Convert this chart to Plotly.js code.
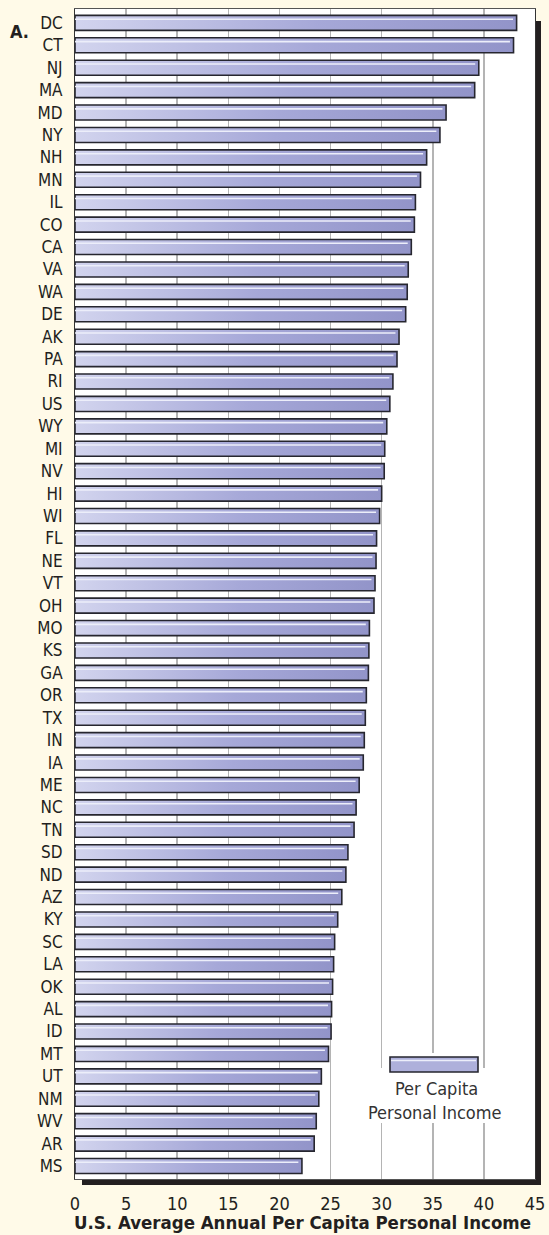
<!DOCTYPE html>
<html>
<head>
<meta charset="utf-8">
<script src="https://cdn.plot.ly/plotly-3.0.1.min.js"></script>
<style>
  html, body { margin: 0; padding: 0; background: #fffae8; }
  #chart { width: 549px; height: 1235px; }
</style>
</head>
<body>
<div id="chart"></div>
<script>
// ---- data (top to bottom as in the chart) ----
const states = ["DC","CT","NJ","MA","MD","NY","NH","MN","IL","CO",
  "CA","VA","WA","DE","AK","PA","RI","US","WY","MI",
  "NV","HI","WI","FL","NE","VT","OH","MO","KS","GA",
  "OR","TX","IN","IA","ME","NC","TN","SD","ND","AZ",
  "KY","SC","LA","OK","AL","ID","MT","UT","NM","WV","AR","MS"];
const incomeThousands = [43.2,42.9,39.5,39.1,36.3,35.7,34.4,33.8,33.3,33.2,
  32.9,32.6,32.5,32.35,31.7,31.5,31.1,30.8,30.5,30.3,
  30.25,30.0,29.8,29.5,29.45,29.35,29.25,28.8,28.75,28.7,
  28.5,28.4,28.3,28.2,27.8,27.5,27.3,26.7,26.5,26.1,
  25.7,25.4,25.3,25.2,25.1,25.05,24.8,24.1,23.85,23.6,23.4,22.2];
const xTicks = [0,5,10,15,20,25,30,35,40,45];
const xTitle = "U.S. Average Annual Per Capita Personal Income";
const legendLines = ["Per Capita", "Personal Income"];
const panelLabel = "A.";

// ---- layout geometry (pixels) ----
const W = 549, H = 1235;
const L = 75, R = 535, T = 9, B = 1179;
const px = x => (x - L) / (R - L);
const py = y => (B - y) / (B - T);
const FONT = "DejaVu Sans Condensed, DejaVu Sans, sans-serif";

const barTrace = {
  type: "bar", orientation: "h",
  x: incomeThousands, y: states,
  width: 0.67, offset: -0.335,
  marker: { color: "#aeb0db", line: { color: "#26262f", width: 1.6 } },
  hoverinfo: "x+y", showlegend: false
};
const hiTrace = {
  type: "bar", orientation: "h",
  x: incomeThousands.map(v => v - 0.35), y: states,
  width: 0.07, offset: -0.2,
  marker: { color: "#eceefa", line: { width: 0 } },
  hoverinfo: "skip", showlegend: false
};

const dark = "#231f20";
const shapes = [
  // drop shadow
  { type: "rect", xref: "paper", yref: "paper", x0: px(536), x1: px(541), y0: py(21), y1: py(1185),
    fillcolor: dark, line: { width: 0 }, layer: "below" },
  { type: "rect", xref: "paper", yref: "paper", x0: px(82), x1: px(541), y0: py(1180), y1: py(1185),
    fillcolor: dark, line: { width: 0 }, layer: "below" },
  // legend white background
  { type: "rect", xref: "paper", yref: "paper", x0: px(379), x1: px(488), y0: py(1068), y1: py(1123),
    fillcolor: "#ffffff", line: { width: 0 }, layer: "above" },
  { type: "rect", xref: "paper", yref: "paper", x0: px(386), x1: px(482), y0: py(1053), y1: py(1077),
    fillcolor: "#ffffff", line: { width: 0 }, layer: "above" },
  // legend sample bar
  { type: "rect", xref: "paper", yref: "paper", x0: px(390), x1: px(478), y0: py(1057), y1: py(1072),
    fillcolor: "#aeb0db", line: { color: "#26262f", width: 1.6 }, layer: "above" },
  { type: "line", xref: "paper", yref: "paper", x0: px(391), x1: px(476), y0: py(1060.5), y1: py(1060.5),
    line: { color: "#eceefa", width: 1.5 }, layer: "above" }
];

const annotations = [
  { text: legendLines[0], xref: "paper", yref: "paper", x: px(436), y: py(1088),
    showarrow: false, xanchor: "center", yanchor: "middle",
    font: { family: FONT, size: 18, color: "#333333" } },
  { text: legendLines[1], xref: "paper", yref: "paper", x: px(435), y: py(1112),
    showarrow: false, xanchor: "center", yanchor: "middle",
    font: { family: FONT, size: 18, color: "#333333" } },
  { text: "<b>" + panelLabel + "</b>", xref: "paper", yref: "paper", x: px(19), y: py(31),
    showarrow: false, xanchor: "center", yanchor: "middle",
    font: { family: FONT, size: 18, color: dark } },
  { text: "<b>" + xTitle + "</b>", xref: "paper", yref: "paper", x: px(302), y: py(1222),
    showarrow: false, xanchor: "center", yanchor: "middle",
    font: { family: FONT, size: 18.5, color: dark } }
];

const layout = {
  width: W, height: H,
  margin: { l: L, r: W - R, t: T, b: H - B, pad: 0 },
  paper_bgcolor: "#fffae8",
  plot_bgcolor: "#ffffff",
  barmode: "overlay",
  showlegend: false,
  xaxis: {
    range: [0, 45], tickvals: xTicks, ticktext: xTicks.map(String),
    showgrid: true, gridcolor: "#b4b4b4", gridwidth: 1.5,
    zeroline: false, showline: true, mirror: true, linecolor: "#555555", linewidth: 1,
    ticks: "outside", ticklen: 8, tickcolor: "rgba(0,0,0,0)",
    tickfont: { family: FONT, size: 18, color: dark }
  },
  yaxis: {
    type: "category", categoryorder: "array", categoryarray: states,
    range: [51.58, -0.62],
    showgrid: false, zeroline: false, showline: true, mirror: true,
    linecolor: "#333333", linewidth: 1,
    ticks: "outside", ticklen: 8, tickcolor: "rgba(0,0,0,0)",
    tickfont: { family: FONT, size: 17, color: dark }
  },
  shapes: shapes,
  annotations: annotations
};

Plotly.newPlot("chart", [barTrace, hiTrace], layout, { staticPlot: true, displayModeBar: false })
.then(gd => {
  try {
    const NS = "http://www.w3.org/2000/svg";
    const svg = gd.querySelector("svg.main-svg");
    let defs = svg.querySelector("defs");
    if (!defs) { defs = document.createElementNS(NS, "defs"); svg.insertBefore(defs, svg.firstChild); }
    const g = document.createElementNS(NS, "linearGradient");
    g.setAttribute("id", "barGrad");
    g.setAttribute("x1", "0"); g.setAttribute("y1", "0");
    g.setAttribute("x2", "1"); g.setAttribute("y2", "0");
    [["0", "#d2d4ee"], ["0.55", "#a6a8d8"], ["1", "#9294c9"]].forEach(([o, c]) => {
      const s = document.createElementNS(NS, "stop");
      s.setAttribute("offset", o); s.setAttribute("stop-color", c);
      g.appendChild(s);
    });
    defs.appendChild(g);
    const traces = gd.querySelectorAll(".barlayer .trace");
    if (traces.length) {
      traces[0].querySelectorAll("path").forEach(p => { p.style.fill = "url(#barGrad)"; });
    }
    const shp = gd.querySelectorAll(".layer-above .shapelayer path");
    if (shp.length >= 5) shp[4].style.fill = "url(#barGrad)";
  } catch (e) { console.log(e); }
});
</script>
</body>
</html>
